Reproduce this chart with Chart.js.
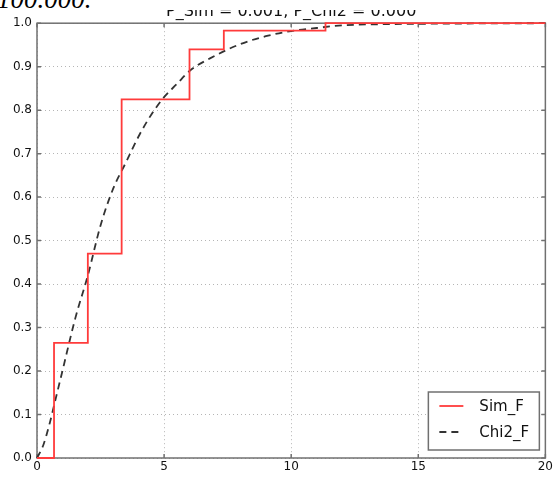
<!doctype html>
<html>

<head>
    <title>Sim_F vs Chi2_F</title>
    <script src="https://cdn.jsdelivr.net/npm/chart.js@4.4.0/dist/chart.umd.min.js"></script>
    <style>
    body {
        margin: 0;
        background: #fff;
    }
    #container {
        position: relative;
        width: 555px;
        height: 477px;
    }
    /* white strip of the page that hides the top of the title */
    #cut {
        position: absolute;
        left: 0;
        top: 0;
        width: 555px;
        height: 10px;
        background: #fff;
        overflow: hidden;
    }
    #cut span {
        position: absolute;
        left: -3px;
        top: -14px;
        font-family: 'Liberation Serif';
        font-style: italic;
        font-size: 27px;
        line-height: 1;
        color: #000;
        white-space: nowrap;
    }
    </style>
</head>

<body>
    <div id="container">
        <canvas id="canvas" width="555" height="477"></canvas>
        <div id="cut"><span>100.000.</span></div>
    </div>

    <script>
        var titleText = 'P_Sim = 0.001, P_Chi2 = 0.000';
        var seriesNames = ['Sim_F', 'Chi2_F'];

        // empirical step cdf
        var simX = [0, 0.67, 2.0, 3.33, 6.0, 7.35, 11.35, 20];
        var simF = [0, 0.265, 0.47, 0.825, 0.94, 0.983, 1.0, 1.0];

        // theoretical curve
        var chiX = [0, 0.25, 0.5, 0.75, 1, 1.5, 2, 2.5, 3, 3.5, 4, 4.5, 5, 5.5, 6, 7, 8, 9, 10, 11, 12, 14, 16, 18, 20];
        var chiF = [0, 0.03, 0.08, 0.14, 0.2, 0.32, 0.42, 0.535, 0.62, 0.68, 0.74, 0.79, 0.83, 0.86, 0.89, 0.925, 0.952, 0.97, 0.982, 0.989, 0.995, 0.998, 0.999, 0.9996, 1.0];

        var xTicks = [0, 5, 10, 15, 20];
        var yTicks = [0.0, 0.1, 0.2, 0.3, 0.4, 0.5, 0.6, 0.7, 0.8, 0.9, 1.0];

        function toPoints(xs, ys) {
            return xs.map(function(x, i) {
                return { x: x, y: ys[i] };
            });
        }

        var frameColor = '#707070';

        // matplotlib-like box, inward ticks and legend
        var axesPlugin = {
            id: 'axesBox',
            beforeDatasetsDraw: function(chart) {
                var a = chart.chartArea;
                var ctx = chart.ctx;
                var sx = chart.scales.x, sy = chart.scales.y;
                ctx.save();
                ctx.strokeStyle = frameColor;
                ctx.lineWidth = 1.5;
                ctx.strokeRect(a.left, a.top, a.right - a.left, a.bottom - a.top);
                ctx.beginPath();
                xTicks.forEach(function(v) {
                    var px = sx.getPixelForValue(v);
                    ctx.moveTo(px, a.bottom);
                    ctx.lineTo(px, a.bottom - 4);
                    ctx.moveTo(px, a.top);
                    ctx.lineTo(px, a.top + 4);
                });
                yTicks.forEach(function(v) {
                    var py = sy.getPixelForValue(v);
                    ctx.moveTo(a.left, py);
                    ctx.lineTo(a.left + 4, py);
                    ctx.moveTo(a.right, py);
                    ctx.lineTo(a.right - 4, py);
                });
                ctx.stroke();
                ctx.restore();
            },
            afterDraw: function(chart) {
                var a = chart.chartArea;
                var ctx = chart.ctx;
                var w = 111, h = 58;
                var left = a.right - 6 - w;
                var top = a.bottom - 8 - h;
                ctx.save();
                ctx.fillStyle = '#fff';
                ctx.fillRect(left, top, w, h);
                ctx.strokeStyle = frameColor;
                ctx.lineWidth = 1.5;
                ctx.strokeRect(left, top, w, h);
                chart.data.datasets.forEach(function(ds, i) {
                    var y = top + 14 + i * 26;
                    ctx.beginPath();
                    ctx.strokeStyle = ds.borderColor;
                    ctx.lineWidth = ds.borderWidth;
                    ctx.setLineDash(ds.borderDash || []);
                    ctx.moveTo(left + 11, y);
                    ctx.lineTo(left + 35, y);
                    ctx.stroke();
                    ctx.setLineDash([]);
                    ctx.fillStyle = '#111';
                    ctx.font = '15px "DejaVu Sans"';
                    ctx.textBaseline = 'middle';
                    ctx.fillText(ds.label, left + 51, y + 1);
                });
                ctx.restore();
            }
        };

        window.onload = function() {
            Chart.defaults.font.family = '"DejaVu Sans", sans-serif';
            var ctx = document.getElementById('canvas').getContext('2d');
            window.myChart = new Chart(ctx, {
                type: 'line',
                data: {
                    datasets: [{
                        label: seriesNames[0],
                        data: toPoints(simX, simF),
                        borderColor: '#ff3b3b',
                        borderWidth: 1.8,
                        stepped: 'before',
                        pointRadius: 0,
                        fill: false,
                        clip: false
                    }, {
                        label: seriesNames[1],
                        data: toPoints(chiX, chiF),
                        borderColor: '#333333',
                        borderWidth: 1.8,
                        borderDash: [7, 5],
                        cubicInterpolationMode: 'monotone',
                        pointRadius: 0,
                        fill: false,
                        clip: false
                    }]
                },
                options: {
                    responsive: false,
                    animation: false,
                    layout: {
                        padding: { left: 0, right: 9, top: 0, bottom: 0 }
                    },
                    plugins: {
                        legend: { display: false },
                        tooltip: { enabled: false },
                        title: {
                            display: true,
                            text: titleText,
                            fullSize: false,
                            color: '#111',
                            font: { size: 16, weight: 'normal' },
                            padding: { top: 2, bottom: 2 }
                        }
                    },
                    scales: {
                        x: {
                            type: 'linear',
                            min: 0,
                            max: 20,
                            afterBuildTicks: function(s) {
                                s.ticks = xTicks.map(function(v) { return { value: v }; });
                            },
                            afterFit: function(s) { s.height = 19; },
                            ticks: {
                                color: '#111',
                                font: { size: 12 },
                                padding: 2,
                                maxRotation: 0,
                                callback: function(v) { return String(v); }
                            },
                            grid: { color: '#b5b5b5', lineWidth: 1, drawTicks: false },
                            border: { display: false, dash: [1, 3] }
                        },
                        y: {
                            type: 'linear',
                            min: 0,
                            max: 1,
                            afterBuildTicks: function(s) {
                                s.ticks = yTicks.map(function(v) { return { value: v }; });
                            },
                            afterFit: function(s) { s.width = 37; },
                            ticks: {
                                color: '#111',
                                font: { size: 12 },
                                padding: 5,
                                callback: function(v) { return v.toFixed(1); }
                            },
                            grid: { color: '#b5b5b5', lineWidth: 1, drawTicks: false },
                            border: { display: false, dash: [1, 3] }
                        }
                    }
                },
                plugins: [axesPlugin]
            });
        };
    </script>
</body>

</html>
